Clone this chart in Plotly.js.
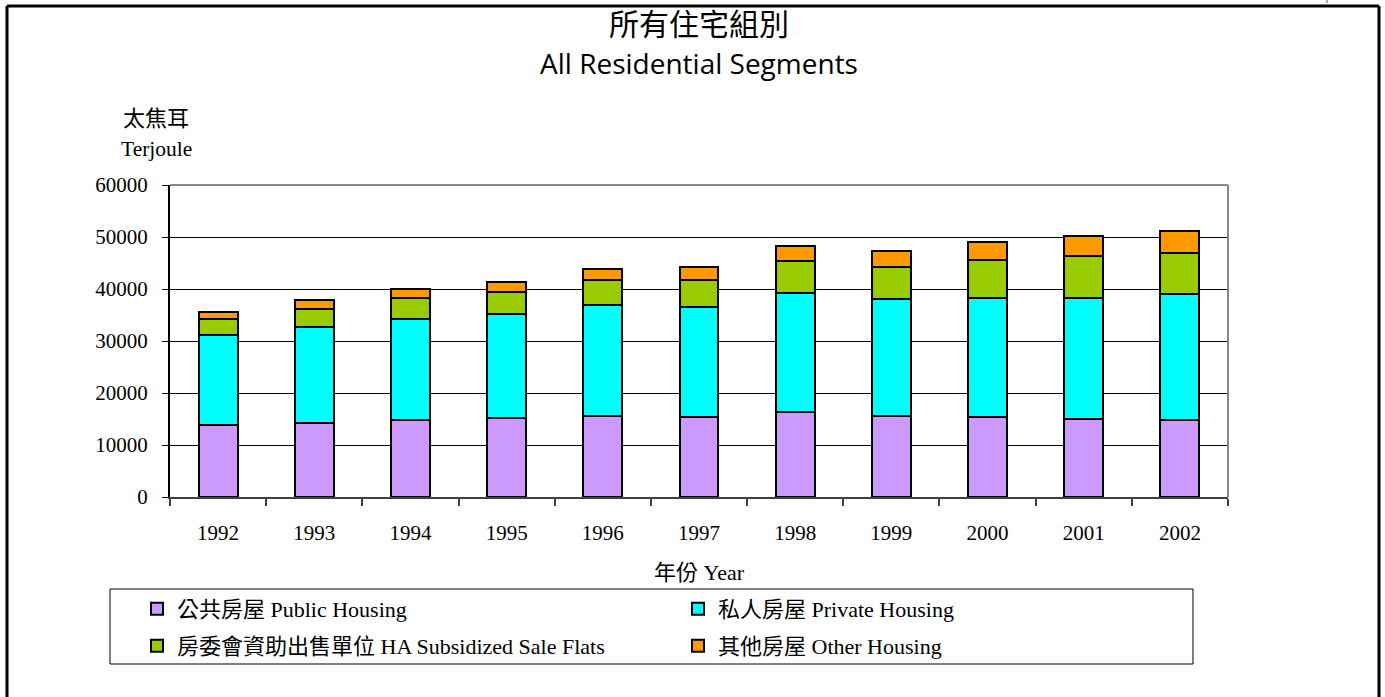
<!DOCTYPE html>
<html>
<head>
<meta charset="utf-8">
<script src="https://cdn.plot.ly/plotly-3.0.1.min.js"></script>
<style>
  html, body { margin: 0; padding: 0; background: #fff; }
  #chart { width: 1385px; height: 697px; }
</style>
</head>
<body>
<div id="chart"></div>
<script>
const years = ['1992','1993','1994','1995','1996','1997','1998','1999','2000','2001','2002'];
const publicHousing  = [13800, 14300, 14850, 15100, 15600, 15400, 16300, 15550, 15300, 15050, 14850];
const privateHousing = [17450, 18450, 19400, 20100, 21250, 21150, 22900, 22500, 23000, 23250, 24100];
const haSubsidized   = [ 3000,  3450,  4100,  4300,  4950,  5250,  6100,  6200,  7250,  8000,  8050];
const otherHousing   = [ 1300,  1600,  1600,  1850,  2100,  2450,  2900,  3150,  3500,  3950,  4100];

const seriesNames = [
  '公共房屋 Public Housing',
  '私人房屋 Private Housing',
  '房委會資助出售單位 HA Subsidized Sale Flats',
  '其他房屋 Other Housing'
];
const seriesColors = ['#CC99FF', '#00FFFF', '#99CC00', '#FF9900'];
const seriesData = [publicHousing, privateHousing, haSubsidized, otherHousing];
const seriesLegend = ['legend', 'legend', 'legend2', 'legend2'];

const serif = '"Liberation Serif", "Times New Roman", "Noto Sans CJK TC", serif';
const sans = '"Open Sans", "Noto Sans", "Noto Sans CJK TC", sans-serif';

const traces = seriesData.map((d, i) => ({
  type: 'bar',
  name: seriesNames[i],
  legend: seriesLegend[i],
  x: years,
  y: d,
  marker: { color: seriesColors[i], line: { color: '#000', width: 2 } },
  hoverinfo: 'x+y+name'
}));

// plot area in pixels: x 170..1228, y 185..497
const L = 170, R = 1228, T = 185, B = 497;
const W = R - L, H = B - T;
const px = v => (v - L) / W;
const py = v => (B - v) / H;

const legendCommon = {
  orientation: 'h',
  xanchor: 'left', yanchor: 'top',
  entrywidth: 496, entrywidthmode: 'pixels',
  borderwidth: 0,
  bgcolor: 'rgba(0,0,0,0)',
  font: { family: serif, size: 22, color: '#000' },
  traceorder: 'normal',
  itemclick: false, itemdoubleclick: false
};

const layout = {
  width: 1385, height: 697,
  margin: { l: L, r: 1385 - R, t: T, b: 697 - B, pad: 0 },
  paper_bgcolor: '#fff', plot_bgcolor: '#fff',
  barmode: 'stack',
  bargap: 0.595,
  showlegend: true,
  title: {
    text: '所有住宅組別<br><span style="font-size:28px">All Residential Segments</span>',
    font: { family: sans, size: 30, color: '#000' },
    x: 0.5, xanchor: 'center', xref: 'paper',
    y: 1 - 35 / 697, yanchor: 'middle', yref: 'container'
  },
  xaxis: {
    type: 'category',
    showline: true, linecolor: '#404040', linewidth: 2,
    ticks: 'outside', tickson: 'boundaries', ticklen: 7, tickcolor: '#404040', tickwidth: 2,
    ticklabelstandoff: 16,
    tickfont: { family: serif, size: 21, color: '#000' },
    showgrid: false, zeroline: false,
    title: { text: '年份 Year', font: { family: serif, size: 22, color: '#000' }, standoff: 20 }
  },
  yaxis: {
    range: [0, 60000], dtick: 10000, tickformat: 'd',
    showline: true, linecolor: '#000', linewidth: 2,
    ticks: 'outside', ticklen: 6, tickcolor: '#000', tickwidth: 1,
    ticklabelstandoff: 10,
    tickfont: { family: serif, size: 21, color: '#000' },
    showgrid: true, gridcolor: '#000', gridwidth: 1,
    zeroline: false
  },
  legend: Object.assign({}, legendCommon, { x: px(137), y: py(588) }),
  legend2: Object.assign({}, legendCommon, { x: px(137), y: py(625) }),
  annotations: [
    { text: '太焦耳', xref: 'paper', yref: 'paper', x: px(156), y: py(118),
      xanchor: 'center', yanchor: 'middle', showarrow: false,
      font: { family: serif, size: 22, color: '#000' } },
    { text: 'Terjoule', xref: 'paper', yref: 'paper', x: px(156), y: py(149),
      xanchor: 'center', yanchor: 'middle', showarrow: false,
      font: { family: serif, size: 21.5, color: '#000' } }
  ],
  shapes: [
    // plot area top & right borders (gray)
    { type: 'line', xref: 'paper', yref: 'paper', x0: 0, x1: 1, y0: 1, y1: 1,
      line: { color: '#888', width: 2 } },
    { type: 'line', xref: 'paper', yref: 'paper', x0: 1, x1: 1, y0: 0, y1: 1,
      line: { color: '#888', width: 2 } },
    // legend box
    { type: 'rect', xref: 'paper', yref: 'paper', x0: px(110), x1: px(1193), y0: py(589), y1: py(664),
      line: { color: '#000', width: 1 }, fillcolor: 'rgba(0,0,0,0)' },
    // outer frame
    { type: 'line', xref: 'paper', yref: 'paper', x0: px(7), x1: px(1379), y0: py(6), y1: py(6),
      line: { color: '#000', width: 3 } },
    { type: 'line', xref: 'paper', yref: 'paper', x0: px(7), x1: px(7), y0: py(6), y1: py(700),
      line: { color: '#000', width: 3 } },
    { type: 'line', xref: 'paper', yref: 'paper', x0: px(1379), x1: px(1379), y0: py(6), y1: py(700),
      line: { color: '#000', width: 3 } },
    { type: 'line', xref: 'paper', yref: 'paper', x0: px(1327), x1: px(1327), y0: py(0), y1: py(3),
      line: { color: '#555', width: 1 } }
  ]
};

Plotly.newPlot('chart', traces, layout, { displayModeBar: false, responsive: false });
</script>
</body>
</html>
